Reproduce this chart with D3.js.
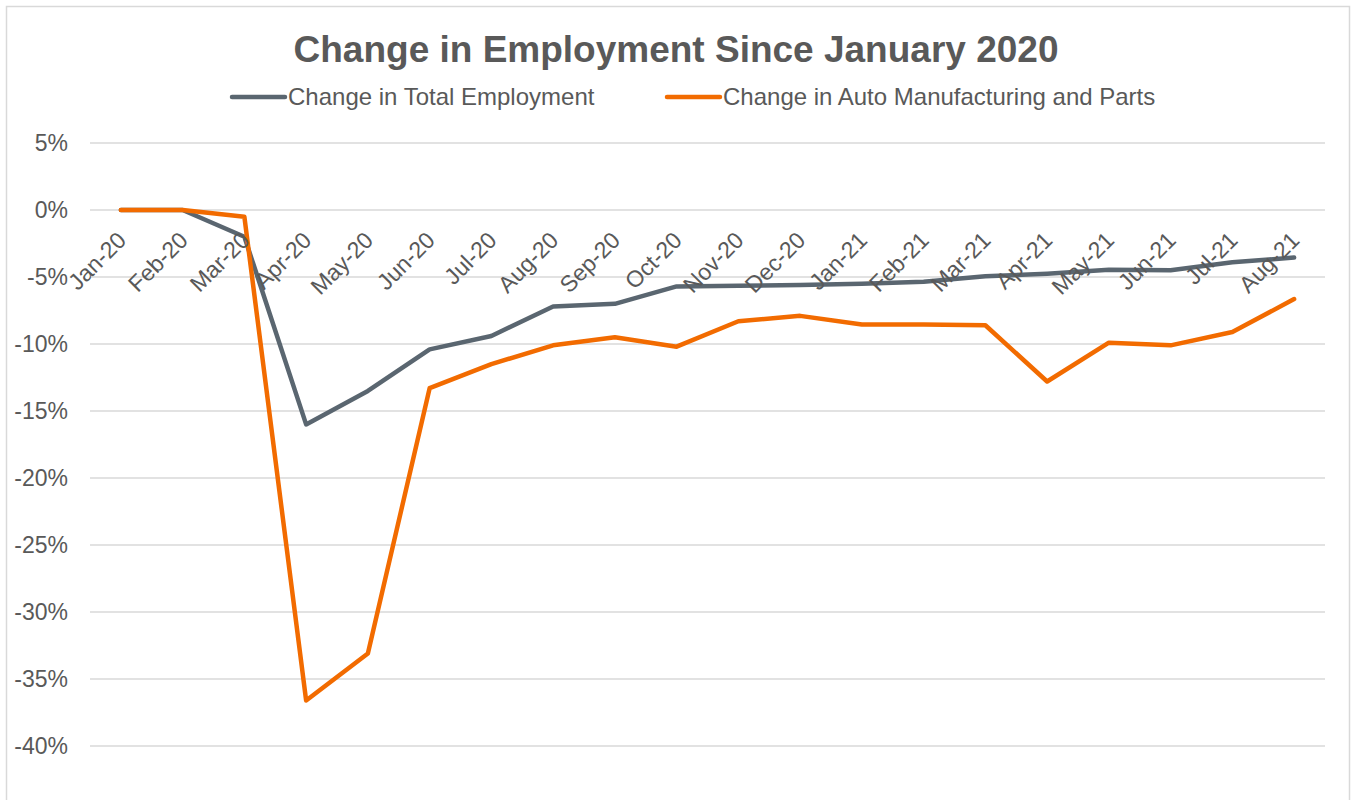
<!DOCTYPE html>
<html>
<head>
<meta charset="utf-8">
<script src="https://cdn.jsdelivr.net/npm/d3@7"></script>
<style>
  body { margin: 0; background: #fff; }
  text { font-family: "Liberation Sans", Arial, sans-serif; fill: #595959; }
</style>
</head>
<body>
<svg id="chart" width="1351" height="800"></svg>
<script>
// months on the x axis
var months = ["Jan-20", "Feb-20", "Mar-20", "Apr-20", "May-20", "Jun-20", "Jul-20", "Aug-20",
    "Sep-20", "Oct-20", "Nov-20", "Dec-20", "Jan-21", "Feb-21", "Mar-21", "Apr-21",
    "May-21", "Jun-21", "Jul-21", "Aug-21"];

// percent change since Jan 2020
var totalEmployment = [0, 0, -2.0, -16.0, -13.5, -10.4, -9.4, -7.2, -7.0, -5.7,
    -5.65, -5.6, -5.5, -5.35, -4.95, -4.75, -4.45, -4.5, -3.9, -3.55];
var autoParts = [0, 0, -0.5, -36.6, -33.1, -13.3, -11.5, -10.1, -9.5, -10.2,
    -8.3, -7.9, -8.55, -8.55, -8.6, -12.8, -9.9, -10.1, -9.1, -6.65];

var yTicks = [5, 0, -5, -10, -15, -20, -25, -30, -35, -40];

var series = [
    { name: "Change in Total Employment", values: totalEmployment, color: "#5a6670" },
    { name: "Change in Auto Manufacturing and Parts", values: autoParts, color: "#f26b00" }
];

var svg = d3.select("#chart");

// chart border
svg.append("rect")
    .attr("x", 6.5).attr("y", 6.5)
    .attr("width", 1343).attr("height", 800)
    .attr("fill", "none")
    .attr("stroke", "#d9d9d9")
    .attr("stroke-width", 1.5);

var x = d3.scaleBand().domain(months).range([90, 1325]);
var y = d3.scaleLinear().domain([-40, 5]).range([746, 143]);

// gridlines
svg.append("g").selectAll("line")
    .data(yTicks)
    .enter()
    .append("line")
    .attr("x1", 90).attr("x2", 1325)
    .attr("y1", function (d) { return y(d); })
    .attr("y2", function (d) { return y(d); })
    .attr("stroke", "#d9d9d9")
    .attr("stroke-width", 1.5);

// y labels
svg.append("g").selectAll("text")
    .data(yTicks)
    .enter()
    .append("text")
    .attr("x", 68)
    .attr("y", function (d) { return y(d); })
    .attr("dy", "0.35em")
    .attr("text-anchor", "end")
    .style("font-size", "23px")
    .text(function (d) { return d + "%"; });

var line = d3.line()
    .x(function (d, i) { return x(months[i]) + x.bandwidth() / 2; })
    .y(function (d) { return y(d); });

svg.append("g").selectAll("path")
    .data(series)
    .enter()
    .append("path")
    .attr("d", function (s) { return line(s.values); })
    .attr("fill", "none")
    .attr("stroke", function (s) { return s.color; })
    .attr("stroke-width", 4.5)
    .attr("stroke-linejoin", "round")
    .attr("stroke-linecap", "round");

// x labels, rotated, drawn over the lines like the original
svg.append("g").selectAll("text")
    .data(months)
    .enter()
    .append("text")
    .attr("transform", function (d) {
        return "translate(" + (x(d) + x.bandwidth() / 2 + 1) + ",236) rotate(-45)";
    })
    .attr("text-anchor", "end")
    .attr("dy", "0.35em")
    .style("font-size", "23px")
    .text(function (d) { return d; });

// title
svg.append("text")
    .attr("x", 676)
    .attr("y", 62)
    .attr("text-anchor", "middle")
    .style("font-size", "37px")
    .style("font-weight", "bold")
    .text("Change in Employment Since January 2020");

// legend
var legendX = [230, 665];
var legend = svg.append("g").selectAll("g")
    .data(series)
    .enter()
    .append("g")
    .attr("transform", function (d, i) { return "translate(" + legendX[i] + ",97)"; });

legend.append("line")
    .attr("x1", 2).attr("x2", 55)
    .attr("stroke", function (d) { return d.color; })
    .attr("stroke-width", 4.5)
    .attr("stroke-linecap", "round");

legend.append("text")
    .attr("x", 58)
    .attr("dy", "0.35em")
    .style("font-size", "24px")
    .text(function (d) { return d.name; });
</script>
</body>
</html>
